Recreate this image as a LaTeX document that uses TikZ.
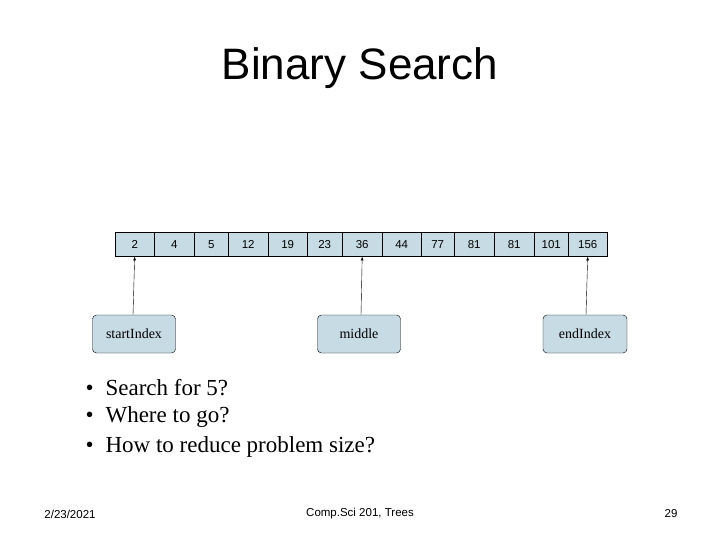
\documentclass[tikz,border=0pt]{standalone}
\usepackage{fontspec}
\setmainfont{Liberation Serif}
\newfontfamily\arial{Liberation Sans}
\begin{document}
\begin{tikzpicture}[x=1pt,y=-1pt,
  cell/.style={draw,fill=cyan!8!teal!25!white,minimum height=24pt,inner sep=0pt,font=\arial\fontsize{11.5}{13}\selectfont},
  lab/.style={draw,rounded corners=4pt,fill=cyan!8!teal!25!white,minimum height=38pt,inner sep=0pt,font=\fontsize{14}{16}\selectfont},
  arr/.style={-latex,thin}]
\useasboundingbox (0,0) rectangle (720,540);
\fill[white] (0,0) rectangle (720,540);
\node[font=\arial\fontsize{44}{50}\selectfont] (title) at (360,68) {Binary Search};
\def\xs{{115,154,194,228,268,307,342,382,421,454,494,534,568,607}}
\foreach \v [count=\i from 0] in {2,4,5,12,19,23,36,44,77,81,81,101,156}{
  \pgfmathsetmacro\a{\xs[\i]}\pgfmathsetmacro\b{\xs[\i+1]}
  \node[cell,minimum width=\b-\a,anchor=north west] (c\i) at (\a,232) {\v};
}
\node[lab,minimum width=83pt] (s) at (134,334) {startIndex};
\node[lab,minimum width=83pt] (m) at (359,334) {middle};
\node[lab,minimum width=84pt] (e) at (585,334) {endIndex};
\draw[arr] (s.north) ++(-1,0) -- (c0.south);
\draw[arr] (m.north) ++(2,0) -- (c6.south);
\draw[arr] (e.north) ++(1,0) -- (c12.south);
\foreach \t/\y [count=\k] in {Search for 5?/388,Where to go?/417,How to reduce problem size?/447}
  \node[anchor=west,font=\fontsize{23}{26}\selectfont] (b\k) at (82,\y) {\textbullet\hspace{12pt}\t};
\node[font=\arial\fontsize{11.5}{13}\selectfont] (d) at (70,514) {2/23/2021};
\node[font=\arial\fontsize{11.5}{13}\selectfont] (f) at (360,514) {Comp.Sci 201, Trees};
\node[font=\arial\fontsize{11.5}{13}\selectfont] (p) at (671,514) {29};
\end{tikzpicture}
\end{document}
